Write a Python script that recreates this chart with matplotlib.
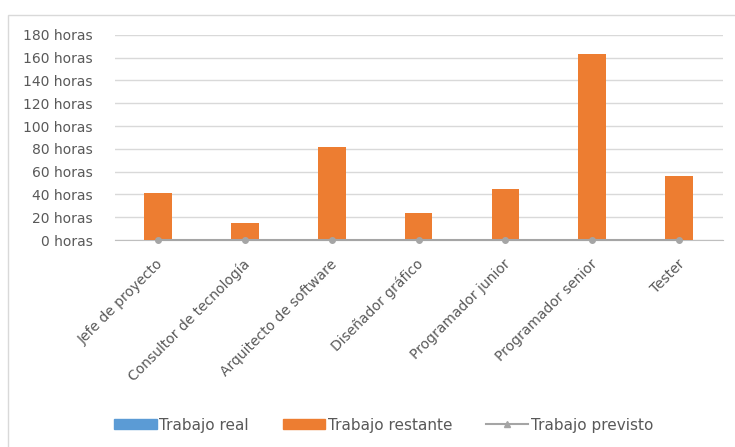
import matplotlib
matplotlib.use("Agg")
import matplotlib.pyplot as plt
from matplotlib.patches import Rectangle, Patch
from matplotlib.lines import Line2D
import matplotlib.transforms as mtransforms

categories = ["Jefe de proyecto", "Consultor de tecnología", "Arquitecto de software",
              "Diseñador gráfico", "Programador junior", "Programador senior", "Tester"]
trabajo_real = [0, 0, 0, 0, 0, 0, 0]
trabajo_restante = [41, 15, 82, 24, 45, 163, 56]
trabajo_previsto = [0, 0, 0, 0, 0, 0, 0]
yticks = [0, 20, 40, 60, 80, 100, 120, 140, 160, 180]
ytick_labels = [f"{v} horas" for v in yticks]

plt.rcParams['font.family'] = ['DejaVu Sans']
text_color = "#595959"

fig = plt.figure(figsize=(7.35, 4.47), dpi=100)
ax = fig.add_axes([0.156, 0.463, 0.827, 0.459])

x = list(range(len(categories)))
w = 0.32
ax.bar(x, trabajo_real, width=w, color="#5B9BD5", zorder=3)
ax.bar(x, trabajo_restante, width=w, bottom=trabajo_real, color="#ED7D31", zorder=3)
ax.plot(x, trabajo_previsto, color="#A5A5A5", lw=1.5, marker="o", ms=4, zorder=4, clip_on=False)

ax.set_xlim(-0.5, len(categories) - 0.5)
ax.set_ylim(0, 180)
ax.set_yticks(yticks)
ax.set_yticklabels(ytick_labels, fontsize=10, color=text_color)
ax.yaxis.grid(True, color="#D9D9D9", lw=1)
ax.set_axisbelow(True)
for s in ["top", "right", "left"]:
    ax.spines[s].set_visible(False)
ax.spines["bottom"].set_color("#BFBFBF")
ax.tick_params(axis="both", length=0)
ax.tick_params(axis="y", pad=16)

ax.set_xticks(x)
ax.set_xticklabels(categories, rotation=45, ha="right", va="center", rotation_mode="anchor",
                   fontsize=10, color=text_color)
offset = mtransforms.ScaledTranslation(0.03, -0.17, fig.dpi_scale_trans)
for lbl in ax.get_xticklabels():
    lbl.set_transform(lbl.get_transform() + offset)

handles = [Patch(color="#5B9BD5"), Patch(color="#ED7D31"),
           Line2D([0], [0], color="#A5A5A5", lw=1.5, marker="^", ms=4)]
fig.legend(handles, ["Trabajo real", "Trabajo restante", "Trabajo previsto"],
           loc="center", bbox_to_anchor=(0.522, 0.049), ncol=3, frameon=False,
           fontsize=11, labelcolor=text_color, handlelength=2.8, handleheight=0.6,
           columnspacing=2.2, handletextpad=0.15)

fig.patches.append(Rectangle((8 / 735, -0.01), 1.0, 1 - 15 / 447 + 0.01, transform=fig.transFigure,
                             fill=False, edgecolor="#D9D9D9", lw=1))

fig.savefig("out.png", dpi=100)
